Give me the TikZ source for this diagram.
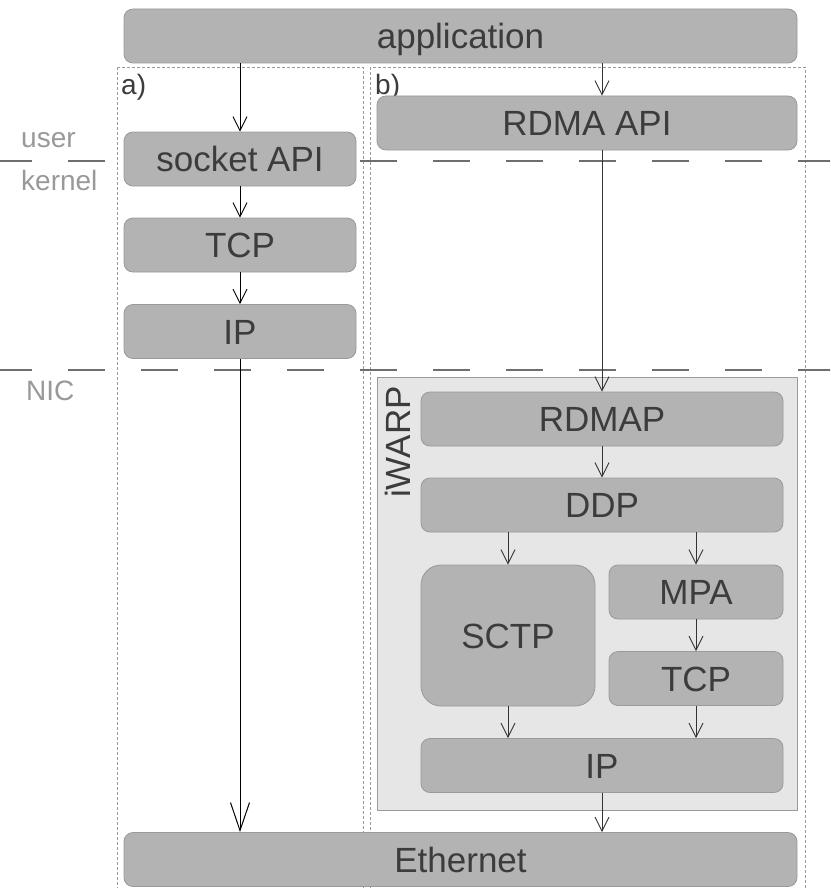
\documentclass[tikz,border=0pt]{standalone}
\usepackage{fontspec}
\setmainfont{Liberation Sans}
\usetikzlibrary{arrows.meta}
\definecolor{boxfill}{HTML}{B3B3B3}
\definecolor{boxline}{HTML}{9A9A9A}
\definecolor{boxtext}{HTML}{3C3C3C}
\definecolor{lbl}{HTML}{999999}
\definecolor{sepline}{HTML}{6E6E6E}
\definecolor{cont}{HTML}{E6E6E6}
\definecolor{arrcol}{HTML}{333333}
\begin{document}
\begin{tikzpicture}[x=1pt,y=-1pt,
  box/.style={draw=boxline, fill=boxfill, rounded corners=9pt, text=boxtext,
    font=\fontsize{35}{35}\selectfont, inner sep=0pt, text height=25pt, text depth=0pt,
    line width=0.8pt},
  arr/.style={draw=arrcol, line width=0.9pt, -{Straight Barb[length=14pt,width=14pt]}},
  bigarr/.style={draw=black, line width=1pt, -{Straight Barb[length=28pt,width=19pt]}},
  dbox/.style={draw=boxline, line width=0.9pt, dash pattern=on 3pt off 2pt},
  sepln/.style={draw=sepline, line width=1.8pt, dash pattern=on 37pt off 36pt},
  side/.style={text=lbl, font=\fontsize{28}{28}\selectfont, inner sep=0pt},
  tag/.style={text=boxtext, font=\fontsize{28}{28}\selectfont, inner sep=0pt}]
\useasboundingbox (0,0) rectangle (830,888);
\clip (0,0) rectangle (830,888);
\fill[white] (0,0) rectangle (830,888);
% dashed column frames
\draw[dbox] (117,67) rectangle (363,900);
\draw[dbox] (370,67) rectangle (805,900);
% separators
\draw[sepln] (-5,161) -- (840,161);
\draw[sepln] (-5,370) -- (840,370);
% side labels
\node[side, anchor=base west] (user) at (21,147) {user};
\node[side, anchor=base west] (kernel) at (21,190) {kernel};
\node[side, anchor=base west] (nic) at (26,400) {NIC};
\node[tag, anchor=base west] (ta) at (121,95) {a)};
\node[tag, anchor=base west] (tb) at (375,95) {b)};
% iWARP container
\node[draw=boxline, fill=cont, line width=0.8pt, minimum width=420pt, minimum height=433pt, inner sep=0pt] (iwarp) at (587,593.5) {};
\node[text=boxtext, font=\fontsize{35}{35}\selectfont, inner sep=0pt, rotate=90, anchor=base west] (iwlbl) at (410,498) {iWARP};
% boxes
\node[box, minimum width=673pt, minimum height=54pt] (app) at (460.5,36) {application};
\node[box, minimum width=232pt, minimum height=54pt] (sock) at (240,159) {socket API};
\node[box, minimum width=232pt, minimum height=54pt] (tcpa) at (240,245) {TCP};
\node[box, minimum width=232pt, minimum height=54pt] (ipa) at (240,331.5) {IP};
\node[box, minimum width=420pt, minimum height=54pt] (rapi) at (587,123) {RDMA API};
\node[box, minimum width=362pt, minimum height=54pt] (rdmap) at (602,419) {RDMAP};
\node[box, minimum width=362pt, minimum height=54pt] (ddp) at (602,505) {DDP};
\node[box, rounded corners=20pt, minimum width=174pt, minimum height=141pt] (sctp) at (508,635.5) {SCTP};
\node[box, minimum width=174pt, minimum height=54pt] (mpa) at (696,592) {MPA};
\node[box, minimum width=174pt, minimum height=54pt] (tcpb) at (696,678.5) {TCP};
\node[box, minimum width=362pt, minimum height=54pt] (ipb) at (602,765.5) {IP};
\node[box, minimum width=673pt, minimum height=54pt] (eth) at (460.5,859.5) {Ethernet};
% connectors, column a
\draw[arr, draw=black] (sock.north |- app.south) -- (sock.north);
\draw[arr, draw=black] (sock.south) -- (tcpa.north);
\draw[arr, draw=black] (tcpa.south) -- (ipa.north);
\draw[bigarr] (ipa.south) -- (ipa.south |- eth.north);
% connectors, column b
\draw[arr] (rdmap.north |- app.south) -- (rdmap.north |- rapi.north);
\draw[arr] (rdmap.north |- rapi.south) -- (rdmap.north);
\draw[arr] (rdmap.south) -- (ddp.north);
\draw[arr] (sctp.north |- ddp.south) -- (sctp.north);
\draw[arr] (mpa.north |- ddp.south) -- (mpa.north);
\draw[arr] (mpa.south) -- (tcpb.north);
\draw[arr] (sctp.south) -- (sctp.south |- ipb.north);
\draw[arr] (tcpb.south) -- (tcpb.south |- ipb.north);
\draw[arr] (ipb.south) -- (ipb.south |- eth.north);
\end{tikzpicture}
\end{document}
